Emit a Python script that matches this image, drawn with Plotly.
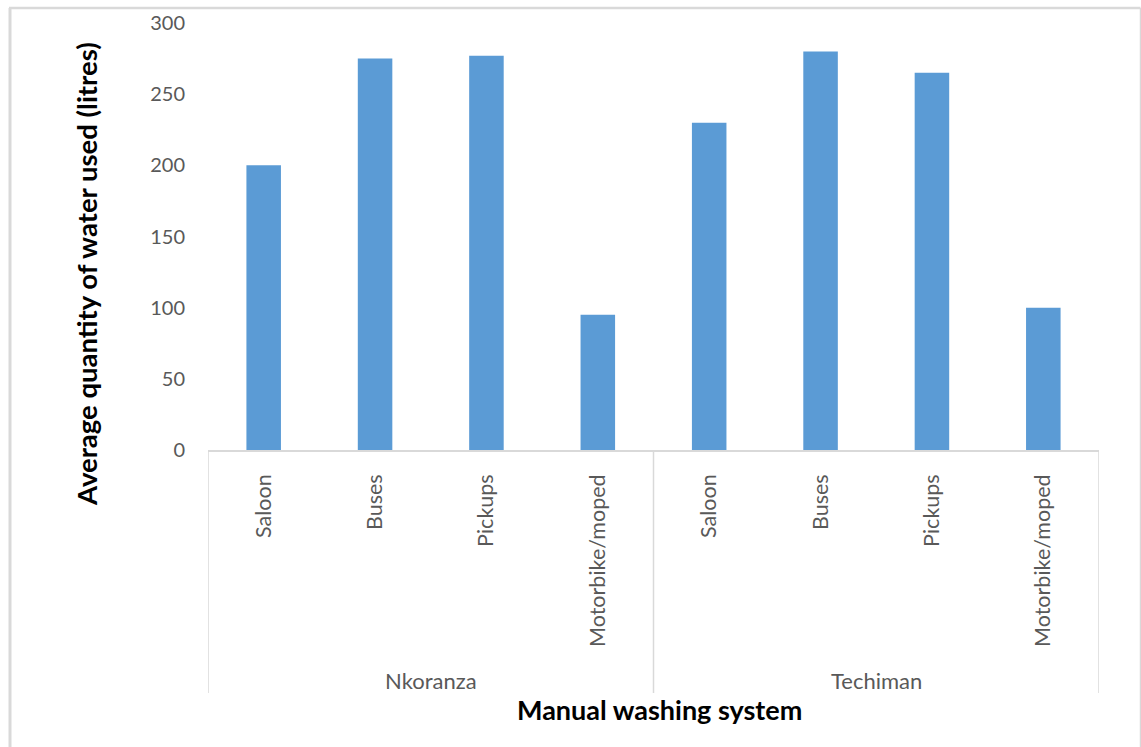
import plotly.graph_objects as go

groups = ["Nkoranza", "Techiman"]
vehicles = ["Saloon", "Buses", "Pickups", "Motorbike/moped"]
nkoranza = [200, 275, 277, 95]
techiman = [230, 280, 265, 100]
y_ticks = [0, 50, 100, 150, 200, 250, 300]

values = nkoranza + techiman
labels = vehicles + vehicles
xpos = list(range(len(values)))

W, H = 1141, 747
L, R, T, B = 208, 42, 23, 297
pw, ph = W - L - R, H - T - B

def px2x(px):
    return (px - L) / pw

def py2y(py):
    return (H - B - py) / ph

FONT = "Lato"
GRAY = "#595959"
LINE = "#D9D9D9"

fig = go.Figure()
fig.add_trace(go.Bar(x=xpos, y=values, marker=dict(color="#5B9BD5", line=dict(width=0)),
                     width=0.31, hoverinfo="skip"))

shapes = []
n = len(vehicles)
for b in [-0.5, n - 0.5, 2 * n - 0.5]:
    shapes.append(dict(type="line", xref="x", yref="paper", x0=b, x1=b, y0=0, y1=py2y(693),
                       line=dict(color=LINE, width=1.5)))
shapes.append(dict(type="line", xref="paper", yref="paper", x0=px2x(10), x1=px2x(10),
                   y0=py2y(8), y1=py2y(760), line=dict(color=LINE, width=3)))
shapes.append(dict(type="line", xref="paper", yref="paper", x0=px2x(9), x1=px2x(1140.5),
                   y0=py2y(8), y1=py2y(8), line=dict(color=LINE, width=2.5)))
shapes.append(dict(type="line", xref="paper", yref="paper", x0=px2x(1140.5), x1=px2x(1140.5),
                   y0=py2y(8), y1=py2y(760), line=dict(color=LINE, width=1.5)))

annotations = []
for gi, g in enumerate(groups):
    annotations.append(dict(text=g, xref="x", yref="paper", x=gi * n + (n - 1) / 2, y=py2y(680),
                            showarrow=False, font=dict(family=FONT, size=22, color=GRAY),
                            xanchor="center", yanchor="middle"))
annotations.append(dict(text="<b>Manual washing system</b>", xref="paper", yref="paper",
                        x=px2x(659), y=py2y(709), showarrow=False,
                        font=dict(family=FONT, size=27, color="black"),
                        xanchor="center", yanchor="middle"))
annotations.append(dict(text="<b>Average quantity of water used (litres)</b>", xref="paper", yref="paper",
                        x=px2x(86), y=py2y(274), showarrow=False, textangle=-90,
                        font=dict(family=FONT, size=27.5, color="black"),
                        xanchor="center", yanchor="middle"))

fig.update_layout(
    width=W, height=H,
    margin=dict(l=L, r=R, t=T, b=B, autoexpand=False),
    paper_bgcolor="white", plot_bgcolor="white",
    showlegend=False,
    bargap=0.69,
    shapes=shapes,
    annotations=annotations,
    xaxis=dict(range=[-0.5, 2 * n - 0.5], tickmode="array", tickvals=xpos, ticktext=labels,
               tickangle=-90, showline=True, linecolor=LINE, linewidth=1.5, showgrid=False,
               zeroline=False, ticks="", ticklabelstandoff=14,
               tickfont=dict(family=FONT, size=21.5, color=GRAY), fixedrange=True),
    yaxis=dict(range=[0, 300], tickmode="array", tickvals=y_ticks, showline=False, showgrid=False,
               zeroline=False, ticks="", ticklabelstandoff=22,
               tickfont=dict(family=FONT, size=20, color=GRAY), fixedrange=True),
)

fig.write_html("out.html")
